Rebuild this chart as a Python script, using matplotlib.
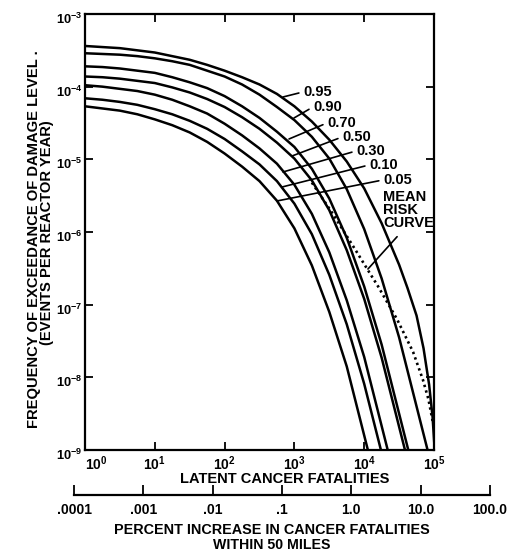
import matplotlib.pyplot as plt
import matplotlib.transforms as mtransforms
from matplotlib.ticker import FixedLocator, NullLocator

plt.rcParams['font.family'] = ['Liberation Sans', 'DejaVu Sans']
plt.rcParams['font.weight'] = 'bold'
plt.rcParams['mathtext.fontset'] = 'custom'
plt.rcParams['mathtext.rm'] = 'Liberation Sans:bold'
plt.rcParams['mathtext.bf'] = 'Liberation Sans:bold'
plt.rcParams['mathtext.it'] = 'Liberation Sans:bold'

# log10(latent cancer fatalities) grid shared by most curves
LOG_N = [0.0, 0.25, 0.5, 0.75, 1.0, 1.25, 1.5, 1.75, 2.0, 2.25, 2.5,
         2.75, 3.0, 3.25, 3.5, 3.75, 4.0, 4.25, 4.5, 4.75, 5.0]

# log10(frequency of exceedance), one list per percentile curve
P05 = [-4.27, -4.30, -4.33, -4.38, -4.45, -4.53, -4.63, -4.76, -4.92, -5.10,
       -5.30, -5.57, -5.95, -6.46, -7.10, -7.85, -8.80, -9.75]
P10 = [-4.16, -4.18, -4.21, -4.25, -4.31, -4.38, -4.47, -4.58, -4.72, -4.89,
       -5.07, -5.30, -5.61, -6.03, -6.59, -7.27, -8.09, -9.04]
P30 = [-3.98, -4.00, -4.03, -4.06, -4.11, -4.18, -4.27, -4.37, -4.51, -4.67,
       -4.85, -5.06, -5.35, -5.75, -6.28, -6.94, -7.72, -8.67, -9.62]
P50 = [-3.86, -3.87, -3.89, -3.92, -3.95, -4.01, -4.08, -4.17, -4.28, -4.42,
       -4.58, -4.77, -4.99, -5.29, -5.70, -6.25, -6.92, -7.73, -8.68, -9.63]
P70 = [-3.72, -3.73, -3.75, -3.78, -3.81, -3.87, -3.94, -4.02, -4.13, -4.27,
       -4.43, -4.62, -4.83, -5.13, -5.54, -6.08, -6.75, -7.55, -8.50, -9.45]
P90 = [-3.54, -3.55, -3.56, -3.58, -3.61, -3.65, -3.70, -3.78, -3.86, -3.97,
       -4.11, -4.28, -4.46, -4.69, -4.99, -5.41, -5.96, -6.64, -7.45, -8.40, -9.35]

P95_LOG_N = [0.0, 0.25, 0.5, 0.75, 1.0, 1.25, 1.5, 1.75, 2.0, 2.25, 2.5, 2.75,
             3.0, 3.25, 3.5, 3.75, 4.0, 4.25, 4.5, 4.62, 4.75, 4.85, 4.93, 4.98, 5.01]
P95 = [-3.44, -3.455, -3.47, -3.50, -3.53, -3.58, -3.63, -3.70, -3.78, -3.87,
       -3.97, -4.10, -4.27, -4.48, -4.73, -5.03, -5.40, -5.88, -6.45, -6.77,
       -7.15, -7.60, -8.10, -8.55, -9.0]

MEAN_LOG_N = [3.25, 3.55, 3.89, 4.05, 4.2, 4.47, 4.7, 4.84, 4.92, 4.98]
MEAN = [-5.32, -5.75, -6.27, -6.52, -6.75, -7.2, -7.65, -8.03, -8.3, -8.6]

CURVES = [P95, P90, P70, P50, P30, P10, P05]
CURVE_LABELS = ['0.95', '0.90', '0.70', '0.50', '0.30', '0.10', '0.05']
LABEL_LOG_N = [3.123, 3.266, 3.467, 3.682, 3.883, 4.069, 4.269]
LABEL_LOG_F = [-4.073, -4.280, -4.500, -4.693, -4.885, -5.078, -5.284]
POINT_LOG_N = [2.837, 2.994, 2.923, 2.966, 2.837, 2.822, 2.751]
POINT_LOG_F = [-4.142, -4.431, -4.720, -4.954, -5.174, -5.381, -5.573]

X_TICKS = [1, 10, 100, 1000, 10000, 100000]
X_TICKLABELS = ['$10^{0}$', '$10^{1}$', '$10^{2}$', '$10^{3}$', '$10^{4}$', '$10^{5}$']
Y_TICKS = [1e-9, 1e-8, 1e-7, 1e-6, 1e-5, 1e-4, 1e-3]
Y_TICKLABELS = ['$10^{-9}$', '$10^{-8}$', '$10^{-7}$', '$10^{-6}$',
                '$10^{-5}$', '$10^{-4}$', '$10^{-3}$']
PCT_TICKS = [1e-4, 1e-3, 1e-2, 1e-1, 1, 10, 100]
PCT_TICKLABELS = ['.0001', '.001', '.01', '.1', '1.0', '10.0', '100.0']

W, H = 508, 555


def fx(x):
    return x / W


def fy(y):
    return 1 - y / H


fig = plt.figure(figsize=(W / 100, H / 100), dpi=100)
ax = fig.add_axes([fx(85), fy(450), (434 - 85) / W, (450 - 14) / H])

for vals in CURVES[1:]:
    ax.plot([10 ** u for u in LOG_N[:len(vals)]], [10 ** v for v in vals],
            color='black', lw=1.8, solid_capstyle='butt')
ax.plot([10 ** u for u in P95_LOG_N], [10 ** v for v in P95], color='black', lw=1.8)
ax.plot([10 ** u for u in MEAN_LOG_N], [10 ** v for v in MEAN], color='black',
        lw=1.9, linestyle=(0, (0.9, 1.3)))

ax.set_xscale('log')
ax.set_yscale('log')
ax.set_xlim(1, 1e5)
ax.set_ylim(1e-9, 1e-3)
ax.xaxis.set_major_locator(FixedLocator(X_TICKS))
ax.yaxis.set_major_locator(FixedLocator(Y_TICKS))
ax.xaxis.set_minor_locator(NullLocator())
ax.yaxis.set_minor_locator(NullLocator())
ax.set_xticklabels(X_TICKLABELS)
ax.set_yticklabels(Y_TICKLABELS)
ax.tick_params(which='major', direction='in', length=6, width=1.3,
               top=True, right=True, labelsize=10)
ax.tick_params(axis='x', pad=3)
ax.tick_params(axis='y', pad=2, labelsize=9.3)
for s in ax.spines.values():
    s.set_linewidth(1.6)

shift = mtransforms.ScaledTranslation(0, -4 / 100, fig.dpi_scale_trans)
for lab in ax.get_yticklabels():
    lab.set_transform(lab.get_transform() + shift)
ax.get_xticklabels()[0].set_horizontalalignment('left')

for lab, lx, ly, px, py in zip(CURVE_LABELS, LABEL_LOG_N, LABEL_LOG_F,
                               POINT_LOG_N, POINT_LOG_F):
    ax.annotate(lab, xy=(10 ** px, 10 ** py), xytext=(10 ** lx, 10 ** ly),
                ha='left', va='center', fontsize=10.5,
                arrowprops=dict(arrowstyle='-', lw=1.2, color='black',
                                shrinkA=1, shrinkB=0, relpos=(0, 0.5)))

ax.annotate('MEAN\nRISK\nCURVE', xy=(10 ** 4.054, 10 ** -6.509),
            xytext=(10 ** 4.269, 10 ** -5.422), ha='left', va='top',
            fontsize=10.5, linespacing=0.9,
            arrowprops=dict(arrowstyle='-', lw=1.2, color='black',
                            shrinkA=4, shrinkB=0, relpos=(0.4, 0)))

# percent-increase scale under the main axis
ax2 = fig.add_axes([fx(74), fy(495), (490 - 74) / W, 0.01])
ax2.set_facecolor('none')
for side in ['top', 'left', 'right']:
    ax2.spines[side].set_visible(False)
ax2.spines['bottom'].set_linewidth(1.6)
ax2.set_xscale('log')
ax2.set_xlim(1e-4, 100)
ax2.xaxis.set_major_locator(FixedLocator(PCT_TICKS))
ax2.xaxis.set_minor_locator(NullLocator())
ax2.set_xticklabels(PCT_TICKLABELS)
ax2.set_yticks([])
ax2.tick_params(axis='x', direction='in', length=7, width=1.3, pad=6, labelsize=10)

fig.text(fx(285), fy(479), 'LATENT CANCER FATALITIES', ha='center', va='center', fontsize=10.5)
fig.text(fx(272), fy(530), 'PERCENT INCREASE IN CANCER FATALITIES',
         ha='center', va='center', fontsize=10.4)
fig.text(fx(272), fy(545), 'WITHIN 50 MILES', ha='center', va='center', fontsize=10.2)
fig.text(fx(34), fy(239), 'FREQUENCY OF EXCEEDANCE OF DAMAGE LEVEL .',
         rotation=90, ha='center', va='center', fontsize=10.6)
fig.text(fx(47), fy(233), '(EVENTS PER REACTOR YEAR)',
         rotation=90, ha='center', va='center', fontsize=10.6)

fig.savefig('out.png', dpi=100)
